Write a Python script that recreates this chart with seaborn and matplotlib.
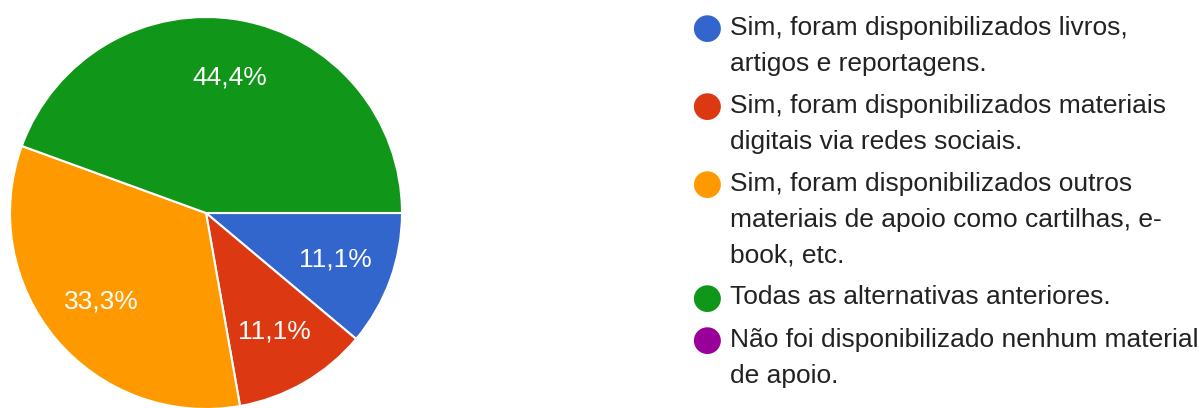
import matplotlib
matplotlib.use("Agg")
import matplotlib.pyplot as plt
import seaborn as sns

# Survey answers (Portuguese), share of responses in %
categories = [
    "Sim, foram disponibilizados livros,\nartigos e reportagens.",
    "Sim, foram disponibilizados materiais\ndigitais via redes sociais.",
    "Sim, foram disponibilizados outros\nmateriais de apoio como cartilhas, e-\nbook, etc.",
    "Todas as alternativas anteriores.",
    "Não foi disponibilizado nenhum material\nde apoio.",
]
shares = [11.1, 11.1, 33.3, 44.4, 0.0]
colors = ["#3366CC", "#DC3912", "#FF9900", "#109618", "#990099"]

sns.set_theme(style="white")
plt.rcParams["font.family"] = ["Liberation Sans", "DejaVu Sans"]

W, H = 1199, 408
fig = plt.figure(figsize=(W / 100, H / 100), dpi=100)

# pie axes: center (206, 213) px, radius 196 px
cx, cy, r = 206, 213, 196
ax = fig.add_axes([(cx - r) / W, (H - cy - r) / H, 2 * r / W, 2 * r / H])
vals = [v for v in shares if v > 0]
cols = [c for v, c in zip(shares, colors) if v > 0]
wedges, texts, autotexts = ax.pie(
    vals, colors=cols, startangle=0, counterclock=False,
    autopct=lambda p: f"{p:.1f}%".replace(".", ","), pctdistance=0.7,
    wedgeprops=dict(edgecolor="white", linewidth=1.5),
    textprops=dict(color="white", fontsize=19),
)
ax.set_xlim(-1, 1)
ax.set_ylim(-1, 1)
ax.set_aspect("equal")
ax.axis("off")

# legend drawn manually so the dot sits on the first line of each entry
y = 28
line_step, entry_gap = 35.5, 7
for label, col in zip(categories, colors):
    fig.text(707 / W, 1 - y / H, "●", color=col, fontsize=25.5,
             ha="center", va="center", family=["DejaVu Sans"])
    for line in label.split("\n"):
        fig.text(730 / W, 1 - y / H, line, color="#222222", fontsize=19,
                 ha="left", va="center")
        y += line_step
    y += entry_gap

fig.savefig("out.png", dpi=100, facecolor="white")
